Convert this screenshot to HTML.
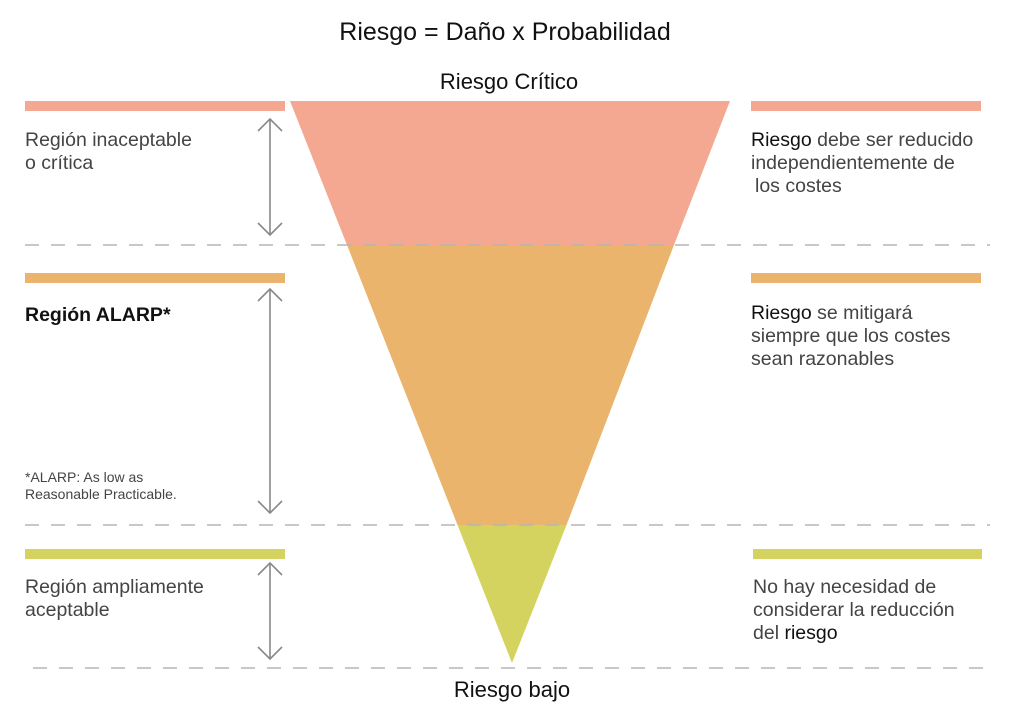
<!DOCTYPE html>
<html><head><meta charset="utf-8"><style>
body{margin:0;width:1024px;height:720px;background:#fff;overflow:hidden;font-family:"Liberation Sans",sans-serif}
</style></head><body>
<svg width="1024" height="720" xmlns="http://www.w3.org/2000/svg" font-family="Liberation Sans, sans-serif">
<text x="505" y="40" font-size="25" text-anchor="middle" fill="#111">Riesgo = Daño x Probabilidad</text>
<text x="509" y="89" font-size="22" text-anchor="middle" fill="#111">Riesgo Crítico</text>
<text x="512" y="697" font-size="22" text-anchor="middle" fill="#111">Riesgo bajo</text>
<polygon points="290,101 730,101 674,245 347,245" fill="#f4a891"/>
<polygon points="347,245 674,245 566.5,525 457.5,525" fill="#ebb46c"/>
<polygon points="457.5,525 566.5,525 512,663" fill="#d5d35f"/>
<g stroke="#b5b5b5" stroke-width="1.5" stroke-dasharray="14 12">
<line x1="25" y1="245" x2="990" y2="245"/><line x1="25" y1="525" x2="990" y2="525"/><line x1="33" y1="668" x2="990" y2="668"/></g>
<rect x="25" y="101" width="260" height="10" fill="#f4a891"/>
<rect x="751" y="101" width="230" height="10" fill="#f4a891"/>
<rect x="25" y="273" width="260" height="10" fill="#ebb46c"/>
<rect x="751" y="273" width="230" height="10" fill="#ebb46c"/>
<rect x="25" y="549" width="260" height="10" fill="#d5d35f"/>
<rect x="753" y="549" width="229" height="10" fill="#d5d35f"/>
<g stroke="#888" stroke-width="1.6" fill="none">
<line x1="270" y1="119" x2="270" y2="235"/><path d="M258 131 L270 119 L282 131 M258 223 L270 235 L282 223"/>
<line x1="270" y1="289" x2="270" y2="513"/><path d="M258 301 L270 289 L282 301 M258 501 L270 513 L282 501"/>
<line x1="270" y1="563" x2="270" y2="659"/><path d="M258 575 L270 563 L282 575 M258 647 L270 659 L282 647"/>
</g>
<g font-size="19.5" fill="#444">
<text x="25" y="146">Región inaceptable</text><text x="25" y="169">o crítica</text>
<text x="25" y="321" font-weight="bold" fill="#111">Región ALARP*</text>
<text x="25" y="482" font-size="14">*ALARP: As low as</text><text x="25" y="499" font-size="14">Reasonable Practicable.</text>
<text x="25" y="593">Región ampliamente</text><text x="25" y="616">aceptable</text>
<text x="751" y="146"><tspan fill="#111">Riesgo</tspan> debe ser reducido</text><text x="751" y="169">independientemente de</text><text x="755" y="192">los costes</text>
<text x="751" y="319"><tspan fill="#111">Riesgo</tspan> se mitigará</text><text x="751" y="342">siempre que los costes</text><text x="751" y="365">sean razonables</text>
<text x="753" y="593">No hay necesidad de</text><text x="753" y="616">considerar la reducción</text><text x="753" y="639">del <tspan fill="#111">riesgo</tspan></text>
</g>
</svg>
</body></html>
